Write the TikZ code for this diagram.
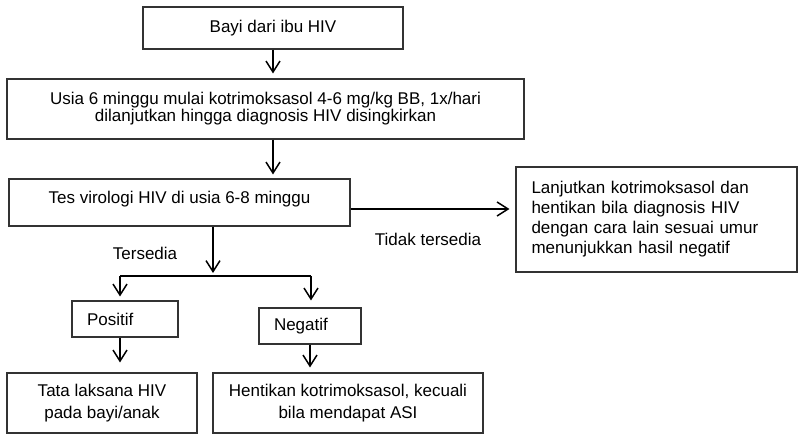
\documentclass[tikz,border=0pt]{standalone}
\usepackage{fontspec}
\setmainfont{Liberation Sans}
\usetikzlibrary{arrows.meta}

\begin{document}
\begin{tikzpicture}[x=1pt, y=1pt, font=\fontsize{17}{17}\selectfont,
  box/.style={draw=black!80, line width=1.1pt, rectangle, align=center, inner sep=0pt},
  lbl/.style={inner sep=0pt},
  arr/.style={-{Straight Barb[length=11pt, width=14pt]}, line width=1.5pt}]
  \useasboundingbox (0,0) rectangle (798,434);
  \node[box, minimum width=260pt, minimum height=42pt] (bayi) at (273,406) {Bayi dari ibu HIV};
  \node[box, minimum width=517pt, minimum height=60pt] (usia) at (265.5,325)
    {Usia 6 minggu mulai kotrimoksasol 4-6 mg/kg BB, 1x/hari\\dilanjutkan hingga diagnosis HIV disingkirkan};
  \node[box, minimum width=341pt, minimum height=47pt, text depth=11pt] (tes) at (179.5,231.5)
    {Tes virologi HIV di usia 6-8 minggu};
  \node[box, minimum width=281pt, minimum height=105pt, text width=250pt, align=left,
    font=\fontsize{17}{20}\selectfont] (lanjut) at (656.5,214.5)
    {Lanjutkan kotrimoksasol dan\\hentikan bila diagnosis HIV\\dengan cara lain sesuai umur\\menunjukkan hasil negatif};
  \node[lbl] (ada) at (145,181) {Tersedia};
  \node[lbl] (tidak) at (428,195) {Tidak tersedia};
  \node[box, minimum width=106pt, minimum height=36pt, text width=76pt, align=left] (pos) at (125,115) {Positif};
  \node[box, minimum width=102pt, minimum height=36pt, text width=72pt, align=left] (neg) at (310,108) {Negatif};
  \node[box, minimum width=190pt, minimum height=60pt, font=\fontsize{17}{22}\selectfont] (tata) at (102,31)
    {Tata laksana HIV\\pada bayi/anak};
  \node[box, minimum width=270pt, minimum height=60pt, font=\fontsize{17}{22}\selectfont] (henti) at (348,31)
    {Hentikan kotrimoksasol, kecuali\\bila mendapat ASI};

  \coordinate (cabang) at (213,158);
  \coordinate (kiri) at (120,158);
  \coordinate (kanan) at (311,158);
  \draw[arr, shorten >=5pt] (bayi.south) -- (bayi.south |- usia.north);
  \draw[arr, shorten >=4pt] (bayi.south |- usia.south) -- (bayi.south |- tes.north);
  \draw[arr, shorten >=6pt] ([yshift=-6.5pt]tes.east) -- ([yshift=-6.5pt]tes.east -| lanjut.west);
  \draw[arr, shorten >=3pt] (tes.south -| cabang) -- (cabang);
  \draw[line width=1.5pt] (kiri) -- (kanan);
  \draw[arr, shorten >=4pt] (kiri) -- (kiri |- pos.north);
  \draw[arr, shorten >=7pt] (kanan) -- (kanan |- neg.north);
  \draw[arr, shorten >=10pt] (kiri |- pos.south) -- (kiri |- tata.north);
  \draw[arr, shorten >=5pt] (neg.south) -- (neg.south |- henti.north);
\end{tikzpicture}
\end{document}
